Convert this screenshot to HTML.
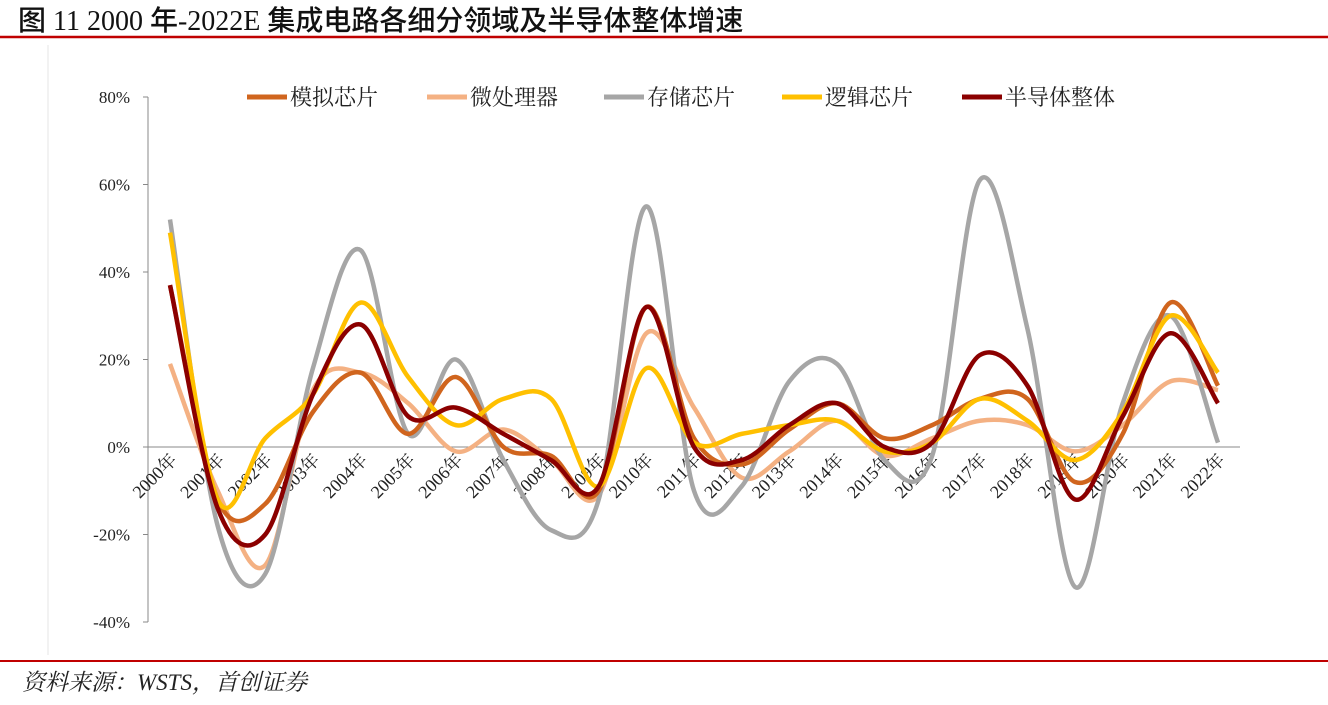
<!DOCTYPE html>
<html><head><meta charset="utf-8">
<style>
body{margin:0;background:#fff;}
svg text{font-family:"Liberation Serif","Noto Serif CJK SC",serif;}
</style></head>
<body>
<svg id="c" width="1328" height="700" xmlns="http://www.w3.org/2000/svg">
<text x="18" y="30" font-size="28" fill="#111" style="font-family:'Liberation Serif','Noto Sans CJK SC',sans-serif;font-weight:500">图  11 2000 年-2022E 集成电路各细分领域及半导体整体增速</text>
<line x1="0" y1="37" x2="1328" y2="37" stroke="#C00000" stroke-width="2.5"/>
<line x1="48" y1="45" x2="48" y2="655" stroke="#e4e4e4" stroke-width="1"/>
<line x1="0" y1="661" x2="1328" y2="661" stroke="#C00000" stroke-width="2"/>
<text x="22" y="690" font-size="23" font-style="italic" fill="#222" style="font-family:'Liberation Serif','Noto Serif CJK SC',serif">资料来源：WSTS，首创证券</text>
<g id="axes"></g><g id="lines"></g><g id="legend"></g>
</svg>
<script>
const years=["2000年","2001年","2002年","2003年","2004年","2005年","2006年","2007年","2008年","2009年","2010年","2011年","2012年","2013年","2014年","2015年","2016年","2017年","2018年","2019年","2020年","2021年","2022年"];
const yTicks=[80,60,40,20,0,-20,-40];
const seriesNames=["模拟芯片","微处理器","存储芯片","逻辑芯片","半导体整体"];
const analog=[37,-12,-13,8,17,3,16,0,-2,-10,32,2,-4,4,10,2,5,11,11,-8,3,33,14];
const micro=[19,-10,-27,13,17,10,-1,4,-3,-11,26,9,-7,-1,6,-2,2,6,5,-1,5,15,13];
const memory=[52,-18,-29,18,45,3,20,-3,-19,-12,55,-10,-9,15,19,-3,-2,61,27,-32,10,30,1];
const logic=[49,-12,2,12,33,16,5,11,11,-9,18,1,3,5,6,-1,1,11,6,-3,8,30,17];
const total=[37,-14,-20,12,28,7,9,3,-3,-9,32,0,-3,5,10,0,1,21,14,-12,7,26,10];
const colors=["#D0651E","#F4B183","#A6A6A6","#FFC000","#8B0000"];
const all=[analog,micro,memory,logic,total];
const NS="http://www.w3.org/2000/svg";
const X0=170,X1=1218,Y80=97,Y0=447;
const x=i=>X0+i*(X1-X0)/(years.length-1);
const y=v=>Y0-(v*(Y0-Y80)/80);
function mk(t,a,p){const e=document.createElementNS(NS,t);for(const k in a)e.setAttribute(k,a[k]);p.appendChild(e);return e;}
const ax=document.getElementById('axes');
let l=mk('line',{x1:148,y1:y(80),x2:148,y2:y(-40),stroke:'#888','stroke-width':1},ax);


yTicks.forEach(v=>{
 let t=mk('line',{x1:143,y1:y(v),x2:148,y2:y(v),stroke:'#888'},ax);
 
 
 let tx=mk('text',{x:130,y:y(v)+6,'text-anchor':'end','font-size':17,fill:'#222'},ax);
 tx.textContent=v+'%';
 
 
});
let xa=mk('line',{x1:148,y1:y(0),x2:1240,y2:y(0),stroke:'#888'},ax);


years.forEach((yr,i)=>{
 let tx=mk('text',{x:x(i)+8,y:y(0)+14,'text-anchor':'end','font-size':18,fill:'#222',transform:`rotate(-45 ${x(i)+8} ${y(0)+14})`},ax);
 tx.textContent=yr;
 
 
});
function path(d){
 const p=d.map((v,i)=>[x(i),y(v)]);
 let s=`M${p[0][0]},${p[0][1]}`;
 for(let i=0;i<p.length-1;i++){
  const p0=p[i-1]||p[i],p1=p[i],p2=p[i+1],p3=p[i+2]||p2;
  const t=1/6;
  s+=` C${p1[0]+(p2[0]-p0[0])*t},${p1[1]+(p2[1]-p0[1])*t} ${p2[0]-(p3[0]-p1[0])*t},${p2[1]-(p3[1]-p1[1])*t} ${p2[0]},${p2[1]}`;
 }
 return s;
}
const lg=document.getElementById('lines');
const order=[1,2,0,3,4];
order.forEach(k=>{
 let p=mk('path',{d:path(all[k]),fill:'none',stroke:colors[k],'stroke-width':4.5,'stroke-linejoin':'round'},lg);
 
 
});
const leg=document.getElementById('legend');
const lx=[247,427,604,782,962];
seriesNames.forEach((n,k)=>{
 let ln=mk('line',{x1:lx[k],y1:97,x2:lx[k]+40,y2:97,stroke:colors[k],'stroke-width':5},leg);
 
 
 let t=mk('text',{x:lx[k]+43,y:105,'font-size':22,fill:'#222'},leg);
 t.textContent=n;
 
 
});
</script>
</body></html>
